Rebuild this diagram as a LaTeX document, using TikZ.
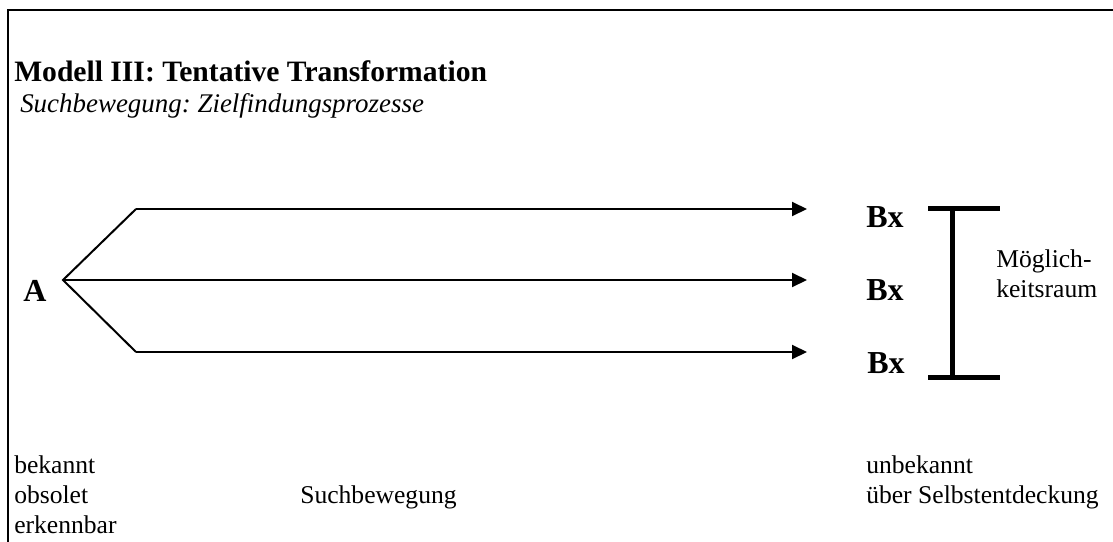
\documentclass[tikz,border=0pt]{standalone}
\usepackage{fontspec}
\setmainfont{Liberation Serif}
\usetikzlibrary{arrows.meta}
\frenchspacing
\tikzset{
  txt/.style={inner sep=0pt, anchor=base west, font=\fontsize{19.2}{22}\selectfont},
  bigbold/.style={inner sep=0pt, anchor=base west, font=\fontsize{24}{27}\selectfont\bfseries},
  conn/.style={line width=1.5pt, -{Triangle[length=11.25pt,width=10.5pt]}},
  branch/.style={line width=1.5pt},
  frame/.style={line width=1.5pt},
  bracket/.style={line width=3.75pt}
}
\begin{document}
\begin{tikzpicture}[x=0.75pt,y=-0.75pt]
\useasboundingbox (0,0) rectangle (1113,542);
% frame
\draw[frame] (8,542) -- (8,10) -- (1113,10);
% titles
\node[inner sep=0pt, anchor=base west, font=\fontsize{22.2}{25}\selectfont\bfseries] (title) at (14,81) {Modell III: Tentative Transformation};
\node[inner sep=0pt, anchor=base west, font=\fontsize{20.2}{23}\selectfont\itshape] (sub) at (20,113) {Suchbewegung: Zielfindungsprozesse};
% A and Bx
\node[bigbold] (A) at (23,301) {A};
\node[bigbold] (B1) at (866,227) {Bx};
\node[bigbold] (B2) at (866,300) {Bx};
\node[bigbold] (B3) at (867,373) {Bx};
% branches
\coordinate (apex) at (63,280);
\coordinate (up) at (136,209);
\coordinate (lo) at (136,352);
\coordinate (t1) at (807,209);
\coordinate (t2) at (807,280);
\coordinate (t3) at (807,352);
\draw[branch] (up) -- (apex) -- (lo);
\draw[conn] (up) -- (t1);
\draw[conn] (apex) -- (t2);
\draw[conn] (lo) -- (t3);
% bracket
\coordinate (bt) at (952,208);
\coordinate (bb) at (952,377);
\coordinate (btl) at (928,208);
\coordinate (btr) at (1000,208);
\coordinate (bbl) at (928,377);
\coordinate (bbr) at (1000,377);
\draw[bracket] (bt) -- (bb);
\draw[bracket] (btl) -- (btr);
\draw[bracket] (bbl) -- (bbr);
\node[txt] (m1) at (996,267) {Möglich-};
\node[txt] (m2) at (996,297) {keitsraum};
% bottom texts
\node[txt] (l1) at (14,473) {bekannt};
\node[txt] (l2) at (14,503) {obsolet};
\node[txt] (l3) at (14,533) {erkennbar};
\node[txt] (mid) at (300,503) {Suchbewegung};
\node[txt] (r1) at (866,473) {unbekannt};
\node[txt] (r2) at (866,503) {über Selbstentdeckung};
\end{tikzpicture}
\end{document}
